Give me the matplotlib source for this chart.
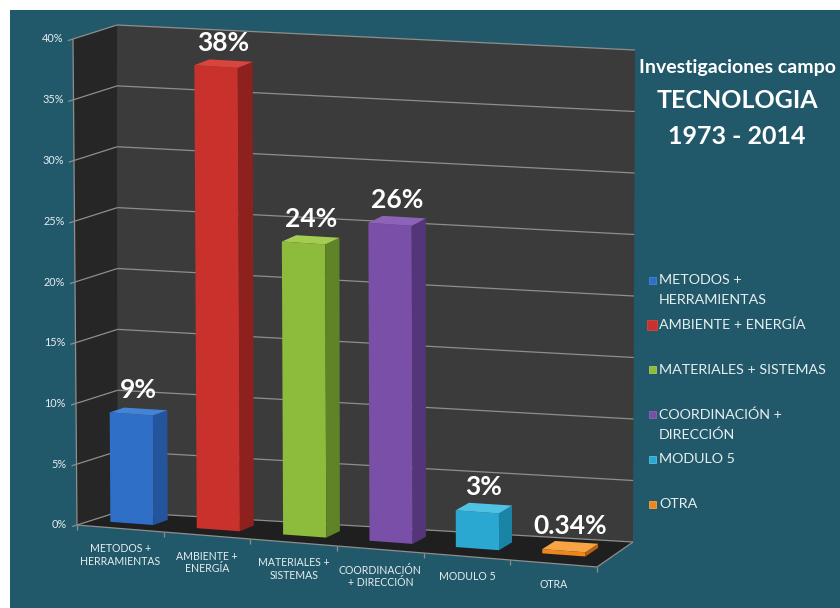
import matplotlib.pyplot as plt
from matplotlib.patches import Polygon, Rectangle
import numpy as np

plt.rcParams['font.family'] = ['Lato', 'DejaVu Sans']

# datos
categorias = ["METODOS +\nHERRAMIENTAS", "AMBIENTE +\nENERGÍA", "MATERIALES +\nSISTEMAS",
              "COORDINACIÓN\n+ DIRECCIÓN", "MODULO 5", "OTRA"]
leyenda = ["METODOS +\nHERRAMIENTAS", "AMBIENTE + ENERGÍA", "MATERIALES + SISTEMAS",
           "COORDINACIÓN +\nDIRECCIÓN", "MODULO 5", "OTRA"]
valores = [9, 38, 24, 26, 3, 0.34]
yticks = [0, 5, 10, 15, 20, 25, 30, 35, 40]
titulo = ["Investigaciones campo", "TECNOLOGIA", "1973 - 2014"]

# colores (frente, lado, arriba)
colores = [("#2f6fc7", "#24559c", "#4384d6"),
           ("#c9312d", "#8e201d", "#d9443d"),
           ("#8dbb3b", "#5f8427", "#a2cd50"),
           ("#7a4fa8", "#553579", "#8c63b8"),
           ("#2aa8d1", "#1a84a6", "#4fc2e4"),
           ("#ef861d", "#b8620f", "#f7a444")]
fondo = "#22596a"
gris = "#8e8e8e"
texto = "#e6eef0"

W, H = 840, 608
NCAT = len(categorias)
YMAX = yticks[-1]

# esquinas de la caja 3d en pixeles: [fondo][alto][izq/der]
caja = np.array([
    [[[77, 525], [597, 567]], [[73, 39], [595, 76]]],
    [[[118, 512], [633, 542]], [[117, 25], [635, 50]]],
], dtype=float)


def proj(x, v, w):
    u = x / NCAT
    t = v / YMAX
    p = np.zeros(2)
    for i, wi in ((0, 1 - w), (1, w)):
        for j, tj in ((0, 1 - t), (1, t)):
            for k, uk in ((0, 1 - u), (1, u)):
                p = p + wi * tj * uk * caja[i, j, k]
    return p


def poly(pts, color, z=1):
    ax.add_patch(Polygon(np.array(pts), closed=True, facecolor=color,
                         edgecolor='none', zorder=z))


def linea(p0, p1, z=2, lw=0.9, color=gris):
    ax.plot([p0[0], p1[0]], [p0[1], p1[1]], color=color, lw=lw, zorder=z,
            solid_capstyle='butt')


fig = plt.figure(figsize=(8.4, 6.08), dpi=100)
fig.patch.set_facecolor("white")
ax = fig.add_axes([0, 0, 1, 1])
ax.set_xlim(0, W)
ax.set_ylim(H, 0)
ax.axis('off')

ax.add_patch(Rectangle((10, 10), W - 10, H - 10, facecolor=fondo, edgecolor='none', zorder=0))

# paredes y piso
poly([proj(0, 0, 0), proj(0, YMAX, 0), proj(0, YMAX, 1), proj(0, 0, 1)], "#262626")
poly([proj(0, 0, 1), proj(0, YMAX, 1), proj(NCAT, YMAX, 1), proj(NCAT, 0, 1)], "#3b3b3b")
poly([proj(0, 0, 0), proj(0, 0, 1), proj(NCAT, 0, 1), proj(NCAT, 0, 0)], "#1f1f1f")

# lineas de division y eje vertical
for v in yticks:
    a, b, c = proj(0, v, 0), proj(0, v, 1), proj(NCAT, v, 1)
    linea(a, b)
    linea(b, c)
    linea(a - (b - a) * 0.12, a)
    ax.text(a[0] - 10, a[1], f"{v}%", ha='right', va='center', fontsize=7.8,
            color=texto, zorder=5)
linea(proj(0, 0, 0), proj(0, YMAX, 0))
linea(proj(0, 0, 0), proj(NCAT, 0, 0))
linea(proj(NCAT, 0, 0), proj(NCAT, 0, 1))

# eje de categorias
for i in range(NCAT + 1):
    p = proj(i, 0, 0)
    linea(p, p + np.array([0, 5]))
for i, cat in enumerate(categorias):
    p = proj(i + 0.5, 0, 0)
    ax.text(p[0], p[1] + 15, cat, ha='center', va='top', fontsize=7.6,
            color=texto, linespacing=1.15, zorder=5)

# barras
w0, w1 = 0.35, 0.7
for i, v in enumerate(valores):
    xl, xr = i + 0.22, i + 0.72
    fr, la, ar = colores[i]
    poly([proj(xl, 0, w0), proj(xl, v, w0), proj(xr, v, w0), proj(xr, 0, w0)], fr, 3)
    poly([proj(xr, 0, w0), proj(xr, v, w0), proj(xr, v, w1), proj(xr, 0, w1)], la, 3)
    poly([proj(xl, v, w0), proj(xl, v, w1), proj(xr, v, w1), proj(xr, v, w0)], ar, 3)
    p = proj((xl + xr) / 2, v, (w0 + w1) / 2)
    ax.text(p[0], p[1] - 9, f"{v:g}%", ha='center', va='bottom', fontsize=19,
            fontweight='bold', color='white', zorder=6)

# titulo
ax.text(737, 68, titulo[0], ha='center', va='center', fontsize=14, fontweight='bold', color='white')
ax.text(737, 100, titulo[1], ha='center', va='center', fontsize=18, fontweight='bold', color='white')
ax.text(737, 137, titulo[2], ha='center', va='center', fontsize=18, fontweight='bold', color='white')

# leyenda
for i, nombre in enumerate(leyenda):
    y = 280 + 44.8 * i
    s = 10 if i == 1 else 7
    ax.add_patch(Rectangle((652 - s / 2, y - s / 2), s, s, facecolor=colores[i][0],
                           edgecolor=colores[i][2], lw=0.6, zorder=5))
    for j, renglon in enumerate(nombre.split("\n")):
        ax.text(659, y + 20 * j, renglon, ha='left', va='center', fontsize=10.3,
                color=texto, zorder=5)

fig.savefig("out.png", dpi=100, facecolor=fig.get_facecolor())
